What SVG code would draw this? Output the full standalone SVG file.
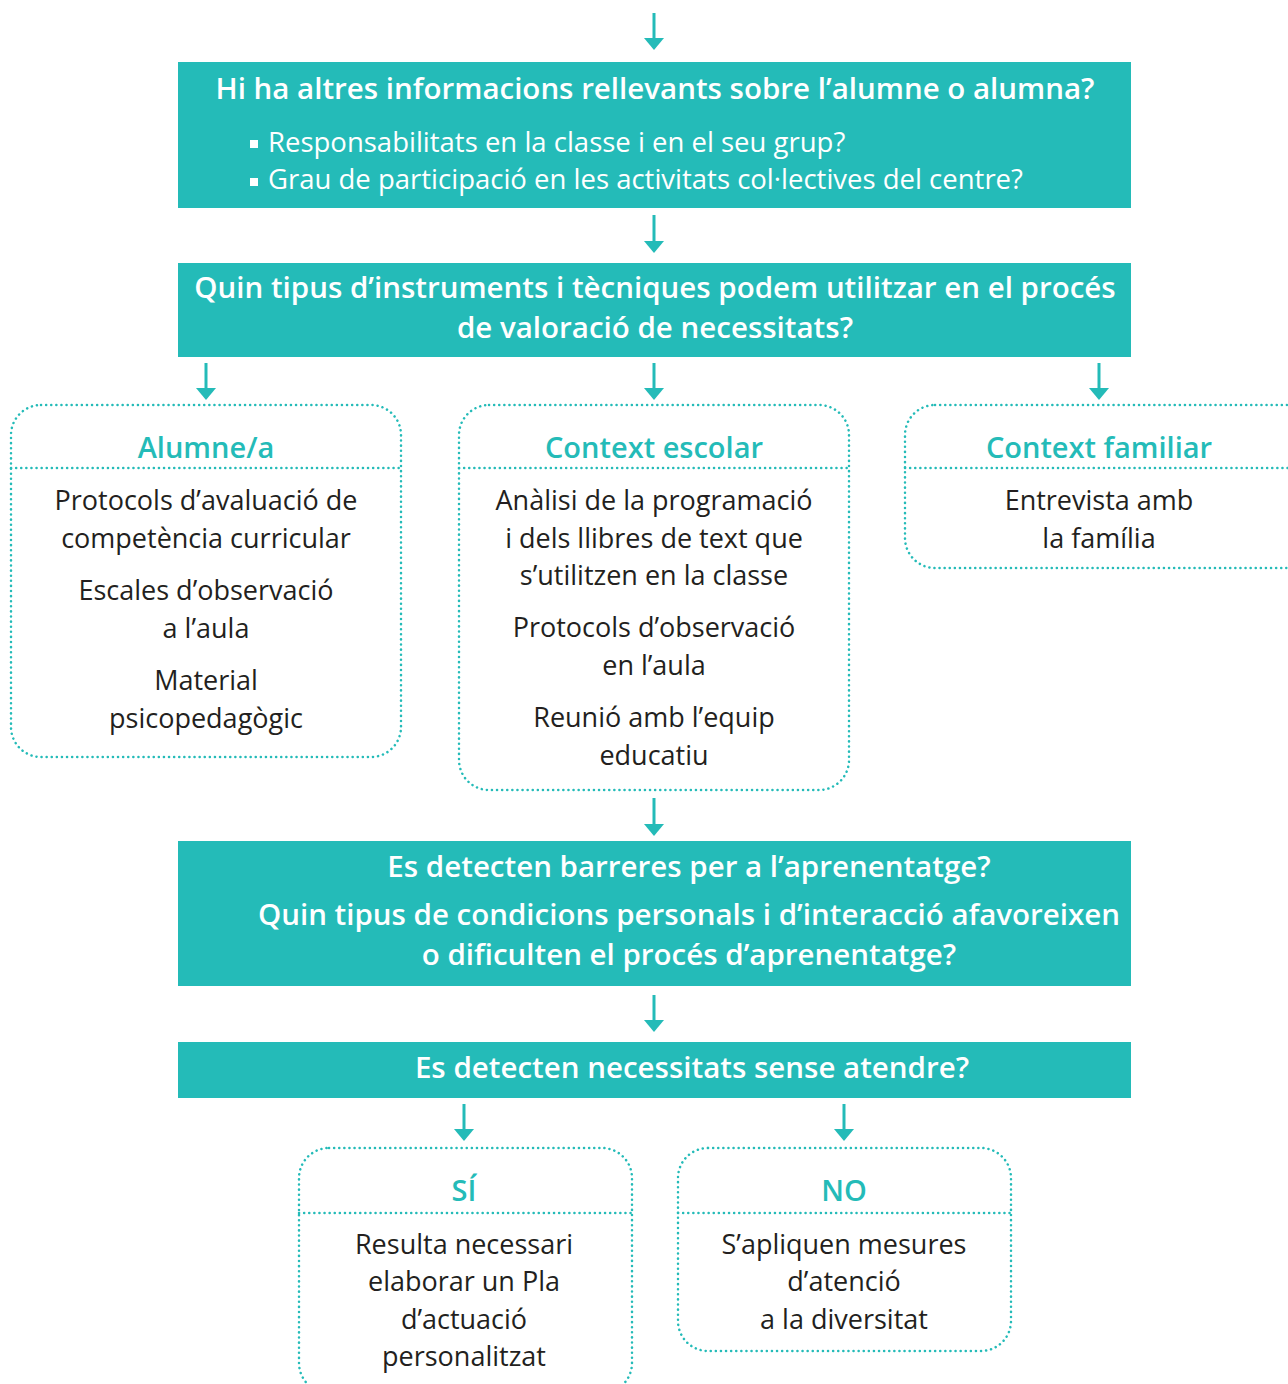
<svg xmlns="http://www.w3.org/2000/svg" width="1288" height="1384" viewBox="0 0 1288 1384">
<defs>
<style>
.bar{fill:#24bbb8}
.dot{fill:none;stroke:#24bbb8;stroke-width:2.5;stroke-dasharray:0.1 5;stroke-linecap:round}
.conn line{stroke:#24bbb8;stroke-width:3}
.conn path{fill:#24bbb8}
.wt{font-family:"Open Sans","Liberation Sans",sans-serif;font-weight:600;font-size:29.5px;fill:#fff;text-anchor:middle}
.wb{font-family:"Open Sans","Liberation Sans",sans-serif;font-weight:400;font-size:27.5px;fill:#fff}
.hd{font-family:"Open Sans","Liberation Sans",sans-serif;font-weight:600;font-size:29px;fill:#24bbb8;text-anchor:middle}
.bd{font-family:"Open Sans","Liberation Sans",sans-serif;font-weight:400;font-size:27px;fill:#231f20;text-anchor:middle}
</style>
</defs>

<g id="connectors" class="conn">
<line x1="654" y1="13" x2="654" y2="40"/><path d="M644,38 L664,38 L654,50 Z"/>
<line x1="654" y1="215" x2="654" y2="243"/><path d="M644,241 L664,241 L654,253 Z"/>
<line x1="206" y1="363" x2="206" y2="390"/><path d="M196,388 L216,388 L206,400 Z"/>
<line x1="654" y1="363" x2="654" y2="390"/><path d="M644,388 L664,388 L654,400 Z"/>
<line x1="1099" y1="363" x2="1099" y2="390"/><path d="M1089,388 L1109,388 L1099,400 Z"/>
<line x1="654" y1="798" x2="654" y2="826"/><path d="M644,824 L664,824 L654,836 Z"/>
<line x1="654" y1="995" x2="654" y2="1022"/><path d="M644,1020 L664,1020 L654,1032 Z"/>
<line x1="464" y1="1104" x2="464" y2="1131"/><path d="M454,1129 L474,1129 L464,1141 Z"/>
<line x1="844" y1="1104" x2="844" y2="1131"/><path d="M834,1129 L854,1129 L844,1141 Z"/>
</g>

<g id="node-altres">
<rect class="bar" x="178" y="62" width="953" height="146"/>
<text class="wt" x="655" y="99">Hi ha altres informacions rellevants sobre l’alumne o alumna?</text>
<rect x="250" y="140" width="8" height="8" fill="#fff"/>
<rect x="250" y="178" width="8" height="8" fill="#fff"/>
<text class="wb" x="268" y="152">Responsabilitats en la classe i en el seu grup?</text>
<text class="wb" x="268" y="189">Grau de participació en les activitats col·lectives del centre?</text>
</g>

<g id="node-instruments">
<rect class="bar" x="178" y="263" width="953" height="94"/>
<text class="wt" x="655" y="298">Quin tipus d’instruments i tècniques podem utilitzar en el procés</text>
<text class="wt" x="655" y="338">de valoració de necessitats?</text>
</g>

<g id="node-alumne">
<rect class="dot" x="11" y="405" width="390" height="352" rx="30"/>
<line class="dot" x1="11" y1="468" x2="401" y2="468"/>
<text class="hd" x="206" y="458">Alumne/a</text>
<text class="bd" x="206" y="510">Protocols d’avaluació de</text>
<text class="bd" x="206" y="548">competència curricular</text>
<text class="bd" x="206" y="600">Escales d’observació</text>
<text class="bd" x="206" y="638">a l’aula</text>
<text class="bd" x="206" y="690">Material</text>
<text class="bd" x="206" y="728">psicopedagògic</text>
</g>

<g id="node-escolar">
<rect class="dot" x="459" y="405" width="390" height="385" rx="30"/>
<line class="dot" x1="459" y1="468" x2="849" y2="468"/>
<text class="hd" x="654" y="458">Context escolar</text>
<text class="bd" x="654" y="510">Anàlisi de la programació</text>
<text class="bd" x="654" y="548">i dels llibres de text que</text>
<text class="bd" x="654" y="585">s’utilitzen en la classe</text>
<text class="bd" x="654" y="637">Protocols d’observació</text>
<text class="bd" x="654" y="675">en l’aula</text>
<text class="bd" x="654" y="727">Reunió amb l’equip</text>
<text class="bd" x="654" y="765">educatiu</text>
</g>

<g id="node-familiar">
<rect class="dot" x="905" y="405" width="410" height="163" rx="30"/>
<line class="dot" x1="905" y1="468" x2="1288" y2="468"/>
<text class="hd" x="1099" y="458">Context familiar</text>
<text class="bd" x="1099" y="510">Entrevista amb</text>
<text class="bd" x="1099" y="548">la família</text>
</g>

<g id="node-barreres">
<rect class="bar" x="178" y="841" width="953" height="145"/>
<text class="wt" x="689" y="877">Es detecten barreres per a l’aprenentatge?</text>
<text class="wt" x="689" y="925">Quin tipus de condicions personals i d’interacció afavoreixen</text>
<text class="wt" x="689" y="965">o dificulten el procés d’aprenentatge?</text>
</g>

<g id="node-necessitats">
<rect class="bar" x="178" y="1042" width="953" height="56"/>
<text class="wt" x="692" y="1078">Es detecten necessitats sense atendre?</text>
</g>

<g id="node-si">
<rect class="dot" x="299" y="1148" width="333" height="245" rx="30"/>
<line class="dot" x1="299" y1="1213" x2="632" y2="1213"/>
<text class="hd" x="464" y="1201">SÍ</text>
<text class="bd" x="464" y="1254">Resulta necessari</text>
<text class="bd" x="464" y="1291">elaborar un Pla</text>
<text class="bd" x="464" y="1329">d’actuació</text>
<text class="bd" x="464" y="1366">personalitzat</text>
</g>

<g id="node-no">
<rect class="dot" x="678" y="1148" width="333" height="203" rx="30"/>
<line class="dot" x1="678" y1="1213" x2="1011" y2="1213"/>
<text class="hd" x="844" y="1201">NO</text>
<text class="bd" x="844" y="1254">S’apliquen mesures</text>
<text class="bd" x="844" y="1291">d’atenció</text>
<text class="bd" x="844" y="1329">a la diversitat</text>
</g>
</svg>
